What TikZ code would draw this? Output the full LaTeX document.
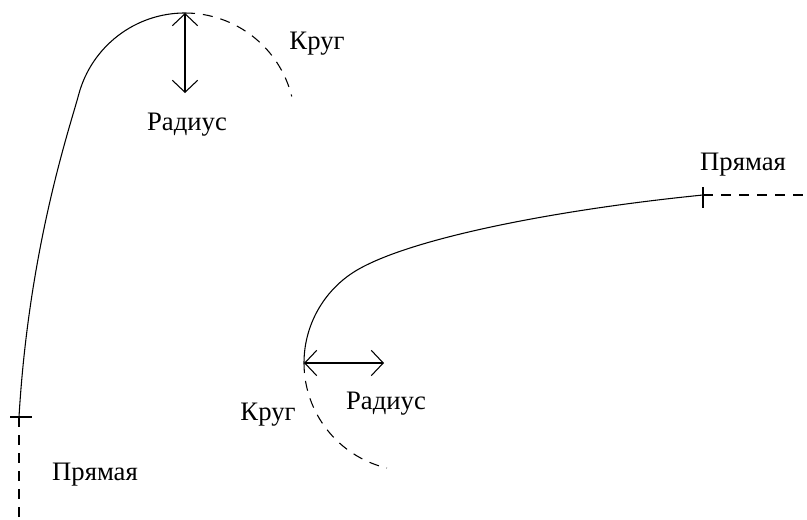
\documentclass[tikz,border=0pt]{standalone}
\usepackage{fontspec}
\setmainfont{Liberation Serif}
\usetikzlibrary{arrows.meta}
\tikzset{
  ln/.style={line width=0.8pt, black},
  dsh/.style={ln, dash pattern=on 7.5pt off 6pt},
  rad/.style={ln, {Straight Barb[length=9pt,width=19pt]}-{Straight Barb[length=9pt,width=19pt]}},
  lbl/.style={font=\fontsize{20}{24}\selectfont, inner sep=0pt, anchor=base}
}
\begin{document}
\begin{tikzpicture}[x=0.75pt,y=-0.75pt]
\useasboundingbox (0,0) rectangle (807,519);
% ---------- left figure ----------
\coordinate (LB) at (19,417);
\coordinate (LC) at (185,123);
\coordinate (LT) at (185,13);
\coordinate (LR) at (185,93);
\coordinate (LE) at (19,519);
% transition curve + circle arc
\draw[ln] (LB) .. controls (29,247) and (69.6,128.3) .. (78.7,94.5)
  arc[start angle=-165, end angle=-90, radius=110];
\draw[dsh] (LT) arc[start angle=-90, end angle=-14, radius=110];
\draw[dsh] (LB) -- (LE);
\draw[ln] (10,417) -- (32,417);
\draw[rad] (LT) -- (LR);
\node[lbl] (k1) at (317,49) {Круг};
\node[lbl] (r1) at (187,130) {Радиус};
\node[lbl] (p1) at (95,480) {Прямая};
% ---------- right figure ----------
\coordinate (RE) at (703,195);
\coordinate (RL) at (304,363);
\coordinate (RA) at (384,363);
\coordinate (RX) at (807,195);
\draw[ln] (RL) arc[start angle=-180, end angle=-125, radius=108]
  .. controls (399.2,240.1) and (553,210) .. (RE);
\draw[dsh] (RL) arc[start angle=-180, end angle=-256.6, radius=108];
\draw[dsh] (RE) -- (RX);
\draw[ln] (703,187) -- (703,208);
\draw[rad] (RL) -- (RA);
\node[lbl] (k2) at (268,420) {Круг};
\node[lbl] (r2) at (386,409) {Радиус};
\node[lbl] (p2) at (743,170) {Прямая};
\end{tikzpicture}
\end{document}
